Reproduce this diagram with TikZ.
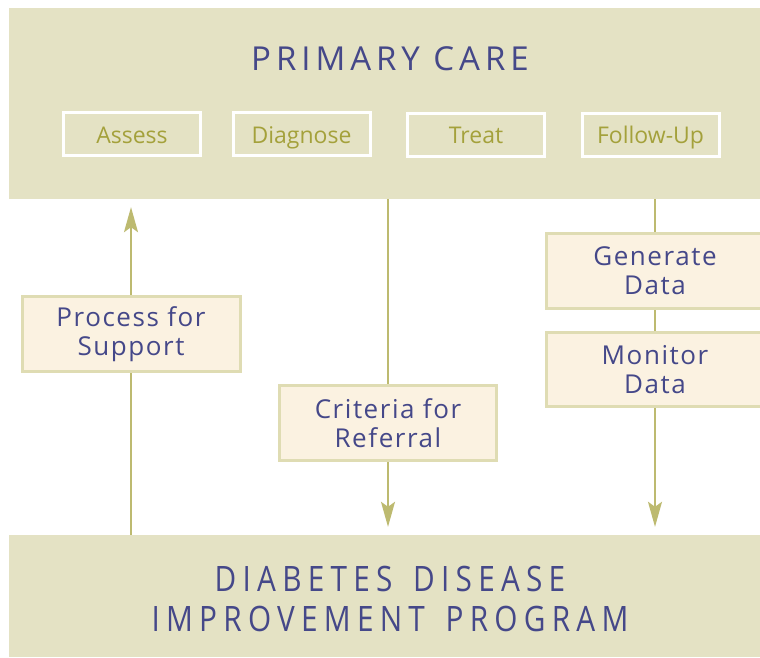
\documentclass[tikz,border=0pt]{standalone}
\usepackage{fontspec}
\setmainfont{Open Sans}
\newfontfamily\titlefont[LetterSpace=15]{Open Sans}
\newfontfamily\boxfont[LetterSpace=6]{Open Sans}
\newfontfamily\stagefont{Open Sans}
\newfontfamily\condfont[LetterSpace=21]{Open Sans}
\usetikzlibrary{arrows.meta}
\definecolor{bandc}{HTML}{E4E2C4}
\definecolor{cream}{HTML}{FBF2E1}
\definecolor{boxline}{HTML}{DFDCB3}
\definecolor{arrowc}{HTML}{BDBA70}
\definecolor{navy}{HTML}{454889}
\definecolor{olive}{HTML}{A4A13B}
\pgfdeclarelayer{bg}
\pgfsetlayers{bg,main}
\begin{document}
\begin{tikzpicture}[x=1pt,y=-1pt,
  band/.style={fill=bandc, draw=none, inner sep=0pt},
  stage/.style={draw=white, line width=3pt, minimum width=137pt, minimum height=43pt, inner sep=0pt,
    text height=22pt, text depth=4pt,
    font=\stagefont\fontsize{23}{26}\selectfont, text=olive},
  stepbox/.style={fill=cream, draw=boxline, line width=3pt, minimum width=217pt, minimum height=75pt,
    inner sep=0pt, align=center, font=\boxfont\fontsize{26}{29}\selectfont, text=navy},
  flow/.style={draw=arrowc, line width=1.6pt, -{Stealth[length=25pt,width=14pt,inset=5pt]}}
]
\useasboundingbox (0,0) rectangle (760,657);
\begin{pgfonlayer}{bg}
\fill[white] (0,0) rectangle (760,657);
\end{pgfonlayer}
% bands
\node[band, minimum width=751pt, minimum height=191pt] (pc) at (384.5,103.5) {};
\node[band, minimum width=751pt, minimum height=122pt] (dd) at (384.5,596) {};
\node[font=\titlefont\fontsize{33}{36}\selectfont, text=navy] (pctitle) at (390,59) {PRIMARY CARE};
\node[font=\condfont\fontsize{35}{40}\selectfont, text=navy, align=center] (ddtitle) at (390,599)
  {\scalebox{0.85}[1]{DIABETES\hspace{8pt} DISEASE}\\\scalebox{0.85}[1]{IMPROVEMENT\hspace{8pt} PROGRAM}};
% stages
\node[stage] (assess) at (132,134) {Assess};
\node[stage] (diag) at (301.5,134) {Diagnose};
\node[stage] (treat) at (476,134.5) {Treat};
\node[stage] (follow) at (650.5,134.5) {Follow-Up};
% boxes
\node[stepbox, minimum width=218pt] (proc) at (131,334) {Process for\\Support};
\node[stepbox] (crit) at (388,423) {Criteria for\\Referral};
\node[stepbox, minimum height=75pt] (gen) at (655,271) {Generate\\Data};
\node[stepbox, minimum height=74pt] (mon) at (655,369.5) {Monitor\\Data};
% connectors
\begin{pgfonlayer}{bg}
\draw[flow, shorten >=8pt] (proc.center |- dd.north) -- (proc.center |- pc.south);
\draw[flow, shorten >=8pt] (crit.center |- pc.south) -- (crit.center |- dd.north);
\draw[flow, shorten >=8pt] (gen.center |- pc.south) -- (gen.center |- dd.north);
\end{pgfonlayer}
\end{tikzpicture}
\end{document}
